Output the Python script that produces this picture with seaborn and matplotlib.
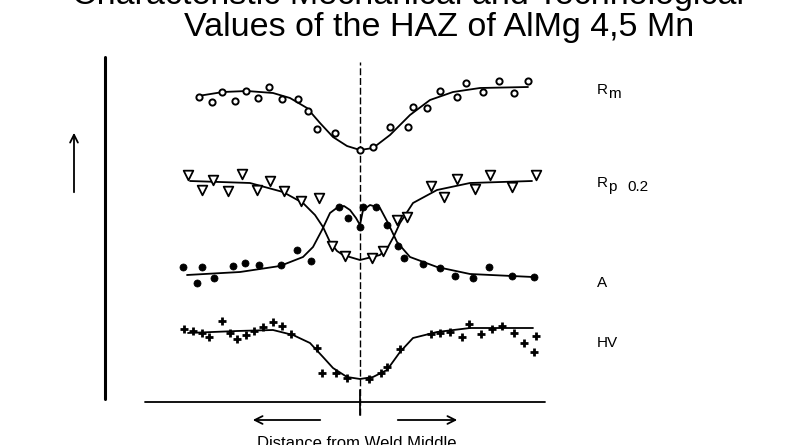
import numpy as np
import pandas as pd
import seaborn as sns
import matplotlib.pyplot as plt

# distance from weld middle (x) and property level (y), arbitrary units
rm_x = [-161, -148, -138, -125, -114, -102, -91, -78, -62, -52, -43, -25, 0, 13, 30, 48, 53, 67, 80, 97, 106, 123, 139, 154, 168]
rm_y = [348, 343, 353, 344, 354, 347, 358, 346, 346, 334, 316, 312, 295, 298, 318, 318, 338, 337, 354, 348, 362, 353, 364, 352, 364]
rm_fit_x = [-162, -137, -113, -87, -70, -53, -40, -27, -13, 0, 13, 30, 50, 70, 93, 120, 168]
rm_fit_y = [349, 353, 354, 352, 347, 337, 322, 308, 299, 295, 297, 310, 330, 345, 353, 357, 358]

rp_x = [-172, -158, -147, -132, -118, -103, -90, -76, -59, -41, -28, -15, 12, 23, 37, 47, 71, 84, 97, 115, 130, 152, 176]
rp_y = [270, 255, 265, 254, 271, 255, 264, 254, 244, 247, 199, 189, 187, 194, 225, 228, 259, 248, 266, 256, 270, 258, 270]
rp_fit_x = [-170, -110, -77, -57, -45, -37, -30, -23, -17, 0, 20, 28, 34, 40, 53, 77, 110, 172]
rp_fit_y = [264, 262, 253, 242, 230, 218, 203, 194, 190, 185, 190, 198, 209, 222, 242, 255, 262, 264]

a_x = [-177, -163, -158, -146, -127, -115, -101, -79, -63, -49, -21, -12, 0, 3, 16, 27, 38, 44, 63, 80, 95, 113, 129, 152, 174]
a_y = [178, 162, 178, 167, 179, 182, 180, 180, 195, 184, 238, 227, 218, 238, 238, 220, 199, 187, 181, 177, 169, 167, 178, 169, 168]
a_fit_x = [-173, -120, -80, -57, -47, -38, -30, -22, -16, -10, -4, 0, 3, 10, 20, 28, 37, 50, 77, 110, 173]
a_fit_y = [170, 173, 179, 188, 198, 215, 232, 238, 239, 235, 227, 220, 235, 240, 237, 222, 203, 188, 178, 171, 168]

hv_x = [-176, -167, -158, -151, -138, -130, -123, -114, -106, -97, -87, -78, -69, -43, -38, -24, -13, 9, 21, 27, 40, 71, 80, 90, 102, 109, 121, 132, 142, 154, 164, 174, 176]
hv_y = [116, 114, 112, 108, 124, 112, 106, 110, 114, 118, 123, 119, 111, 97, 72, 72, 67, 66, 72, 78, 96, 111, 112, 113, 108, 121, 111, 116, 119, 112, 102, 93, 109]
hv_fit_x = [-172, -123, -87, -67, -50, -37, -27, -13, 0, 13, 27, 40, 53, 77, 110, 173]
hv_fit_y = [112, 114, 115, 110, 102, 88, 77, 68, 66, 68, 75, 93, 107, 113, 117, 117]

sns.set_style("white")
plt.rcParams['font.family'] = ['Liberation Sans', 'DejaVu Sans']
plt.rcParams['text.color'] = 'black'

fig = plt.figure(figsize=(8, 4.45), dpi=100)
ax = fig.add_axes([0, 0, 1, 1])
ax.set_xlim(-360, 440)
ax.set_ylim(0, 445)
ax.axis('off')

series = [
    (rm_x, rm_y, rm_fit_x, rm_fit_y, dict(marker='o', s=20, facecolor='white', edgecolor='black', linewidth=1.4)),
    (rp_x, rp_y, rp_fit_x, rp_fit_y, dict(marker='v', s=48, facecolor='white', edgecolor='black', linewidth=1.3)),
    (a_x, a_y, a_fit_x, a_fit_y, dict(marker='o', s=26, color='black', edgecolor='black', linewidth=0.5)),
    (hv_x, hv_y, hv_fit_x, hv_fit_y, dict(marker='+', s=32, color='black', linewidth=2.0)),
]
for px, py, fx, fy, style in series:
    fit = pd.DataFrame({'x': fx, 'y': fy})
    sns.lineplot(data=fit, x='x', y='y', sort=False, estimator=None, color='black', linewidth=1.3, ax=ax)
    pts = pd.DataFrame({'x': px, 'y': py})
    sns.scatterplot(data=pts, x='x', y='y', ax=ax, zorder=3, **style)

# frame lines
ax.plot([-255, -255], [46, 388], color='black', linewidth=2.2)
ax.plot([-215, 185], [43, 43], color='black', linewidth=1.3)
ax.plot([0, 0], [30, 383], color='black', linewidth=1.0, linestyle=(0, (5, 2)))
ax.plot([0, 0], [30, 55], color='black', linewidth=1.3)
arrow = dict(arrowstyle='->', color='black', linewidth=1.3, mutation_scale=14)
ax.annotate('', xy=(-286, 315), xytext=(-286, 250), arrowprops=arrow)
ax.annotate('', xy=(-110, 25), xytext=(-37, 25), arrowprops=arrow)
ax.annotate('', xy=(100, 25), xytext=(35, 25), arrowprops=arrow)
ax.set_xlabel('')
ax.set_ylabel('')

# labels at right
lab = dict(fontsize=11, ha='left', va='baseline', color='black')
ax.text(237, 351, 'R', **lab)
ax.text(248, 347, 'm', **lab)
ax.text(237, 258, 'R', **lab)
ax.text(248, 254, 'p', **lab)
ax.text(267, 254, '0.2', **lab)
ax.text(237, 158, 'A', **lab)
ax.text(237, 98, 'HV', **lab)

# titles
fig.text(408 / 800, 1 - 4 / 445, 'Characteristic Mechanical and Technological',
         fontsize=24.5, ha='center', va='baseline', color='black')
fig.text(439 / 800, 1 - 36 / 445, 'Values of the HAZ of AlMg 4,5 Mn',
         fontsize=24.5, ha='center', va='baseline', color='black')
fig.text(357 / 800, 1 - 448 / 445, 'Distance from Weld Middle', fontsize=12, ha='center', va='baseline',
         color='black')

plt.savefig('out.png', dpi=100)
